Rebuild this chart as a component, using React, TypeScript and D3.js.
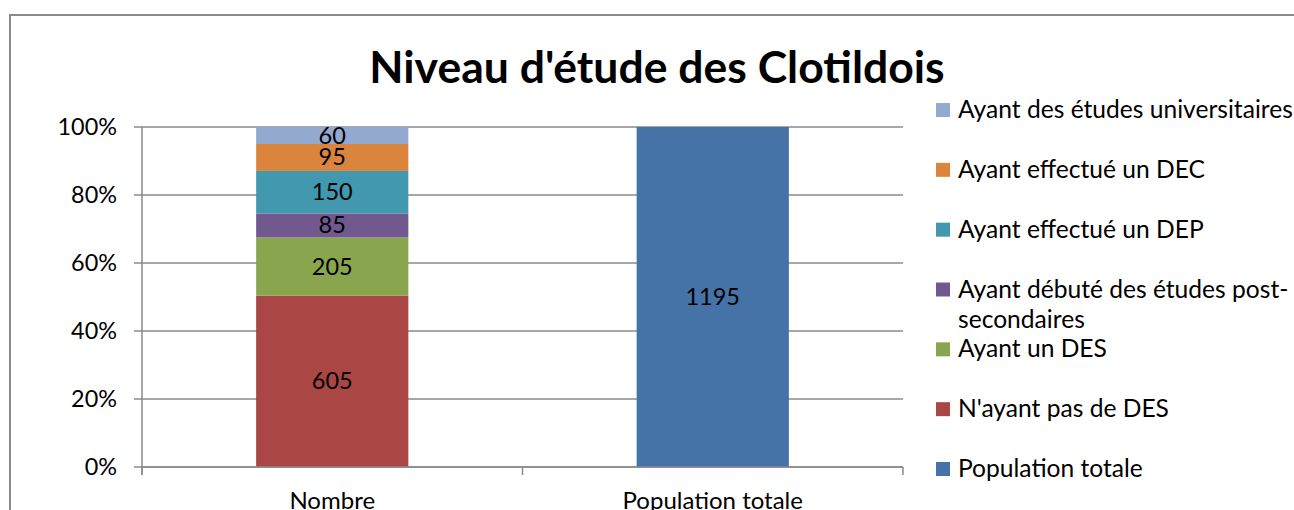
import * as d3 from 'd3'
import { useEffect, useRef } from 'react'

const categories = ['Nombre', 'Population totale']
// series, bottom of the stack first
const seriesNames = [
  'Population totale',
  "N'ayant pas de DES",
  'Ayant un DES',
  'Ayant débuté des études post-secondaires',
  'Ayant effectué un DEP',
  'Ayant effectué un DEC',
  'Ayant des études universitaires',
]
const populationTotale = [0, 1195]
const sansDES = [605, 0]
const avecDES = [205, 0]
const postSecondaires = [85, 0]
const avecDEP = [150, 0]
const avecDEC = [95, 0]
const universitaires = [60, 0]
const seriesValues = [populationTotale, sansDES, avecDES, postSecondaires, avecDEP, avecDEC, universitaires]
const seriesColors = ['#4572A7', '#AA4643', '#89A54E', '#71588F', '#4198AF', '#DB843D', '#93A9CF']
const legendLines = [
  ['Population totale'],
  ["N'ayant pas de DES"],
  ['Ayant un DES'],
  ['Ayant débuté des études post-', 'secondaires'],
  ['Ayant effectué un DEP'],
  ['Ayant effectué un DEC'],
  ['Ayant des études universitaires'],
]
const yTicks = [0, 0.2, 0.4, 0.6, 0.8, 1]

export default function App() {
  const svgRef = useRef<SVGSVGElement>(null)

  useEffect(() => {
    const svg = d3.select(svgRef.current)
    svg.selectAll('*').remove()
    const font = 'Lato, Calibri, sans-serif'
    const grey = '#8a8a8a'

    const left = 142
    const right = 903
    const top = 127
    const bottom = 467

    // outer frame
    svg
      .append('rect')
      .attr('x', 10)
      .attr('y', 15)
      .attr('width', 1400)
      .attr('height', 600)
      .attr('fill', 'white')
      .attr('stroke', grey)
      .attr('stroke-width', 2)

    svg
      .append('text')
      .attr('x', 657)
      .attr('y', 83)
      .attr('text-anchor', 'middle')
      .attr('font-family', font)
      .attr('font-weight', 'bold')
      .attr('font-size', 44.5)
      .text("Niveau d'étude des Clotildois")

    const x = d3.scaleBand().domain(categories).range([left, right]).paddingInner(0.6).paddingOuter(0.3)
    const xOuter = d3.scaleBand().domain(categories).range([left, right])
    const y = d3.scaleLinear().domain([0, 1]).range([bottom, top])

    // gridlines + ticks
    svg
      .append('g')
      .selectAll('line')
      .data(yTicks)
      .join('line')
      .attr('x1', left - 8)
      .attr('x2', right)
      .attr('y1', (d) => y(d))
      .attr('y2', (d) => y(d))
      .attr('stroke', grey)
      .attr('stroke-width', 1.5)

    svg
      .append('g')
      .selectAll('text')
      .data(yTicks)
      .join('text')
      .attr('x', 117)
      .attr('y', (d) => y(d) + 8)
      .attr('text-anchor', 'end')
      .attr('font-family', font)
      .attr('font-size', 23.4)
      .text((d) => d3.format('.0%')(d))

    const table = categories.map((c, i) => {
      const row: any = { cat: c }
      seriesNames.forEach((s, j) => (row[s] = seriesValues[j][i]))
      return row
    })
    const stacked = d3.stack().keys(seriesNames).offset(d3.stackOffsetExpand)(table)

    stacked.forEach((layer, j) => {
      layer.forEach((seg: any, i) => {
        const v = seriesValues[j][i]
        if (!v) return
        svg
          .append('rect')
          .attr('x', x(categories[i])!)
          .attr('width', x.bandwidth())
          .attr('y', y(seg[1]))
          .attr('height', y(seg[0]) - y(seg[1]))
          .attr('fill', seriesColors[j])
        svg
          .append('text')
          .attr('x', x(categories[i])! + x.bandwidth() / 2)
          .attr('y', (y(seg[0]) + y(seg[1])) / 2 + 8)
          .attr('text-anchor', 'middle')
          .attr('font-family', font)
          .attr('font-size', 23.5)
          .text(v)
      })
    })

    // axes lines
    svg
      .append('line')
      .attr('x1', left)
      .attr('x2', left)
      .attr('y1', top)
      .attr('y2', bottom + 8)
      .attr('stroke', grey)
      .attr('stroke-width', 1.5)
    svg
      .append('line')
      .attr('x1', left)
      .attr('x2', right)
      .attr('y1', bottom)
      .attr('y2', bottom)
      .attr('stroke', grey)
      .attr('stroke-width', 1.5)
    const catTicks = [...categories.map((c) => xOuter(c)!), right]
    svg
      .append('g')
      .selectAll('line')
      .data(catTicks)
      .join('line')
      .attr('x1', (d) => d)
      .attr('x2', (d) => d)
      .attr('y1', bottom)
      .attr('y2', bottom + 8)
      .attr('stroke', grey)
      .attr('stroke-width', 1.5)

    svg
      .append('g')
      .selectAll('text')
      .data(categories)
      .join('text')
      .attr('x', (d) => xOuter(d)! + xOuter.bandwidth() / 2)
      .attr('y', 509)
      .attr('text-anchor', 'middle')
      .attr('font-family', font)
      .attr('font-size', 24)
      .text((d) => d)

    // legend, top entry = last series
    const legendY = d3.scaleLinear().domain([seriesNames.length - 1, 0]).range([110, 469])
    seriesNames.forEach((s, j) => {
      const cy = legendY(j)
      svg
        .append('rect')
        .attr('x', 936)
        .attr('y', cy - 7)
        .attr('width', 14)
        .attr('height', 14)
        .attr('fill', seriesColors[j])
      legendLines[j].forEach((line, k) => {
        svg
          .append('text')
          .attr('x', 958)
          .attr('y', cy + 8 + k * 30)
          .attr('font-family', font)
          .attr('font-size', 24.6)
          .text(line)
      })
    })
  }, [])

  return (
    <svg
      ref={svgRef}
      width={1294}
      height={510}
      style={{ position: 'absolute', left: 0, top: 0, display: 'block' }}
    />
  )
}
